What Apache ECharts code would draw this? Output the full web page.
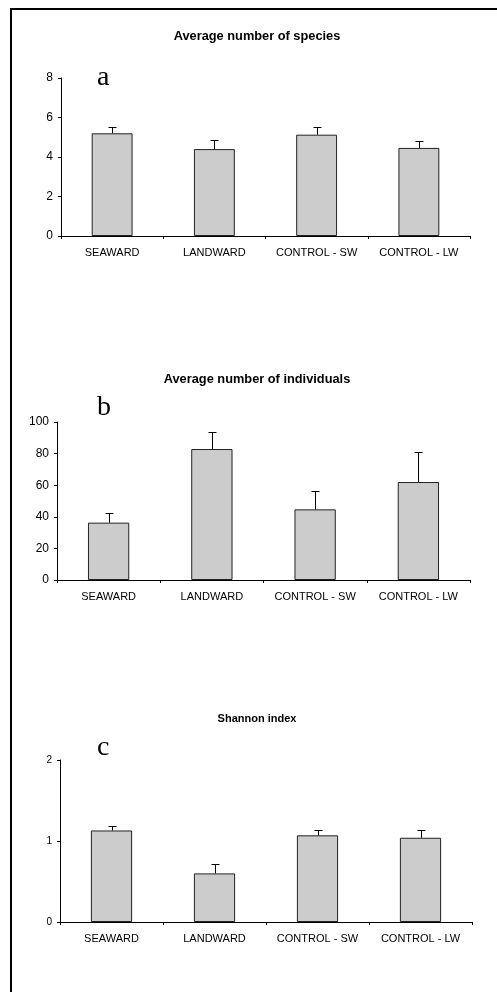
<!DOCTYPE html>
<html>
<head>
<meta charset="utf-8">
<script src="https://cdn.jsdelivr.net/npm/echarts@6/dist/echarts.min.js"></script>
<style>html,body{margin:0;padding:0;background:#fff}#c{width:497px;height:992px}</style>
</head>
<body>
<div id="c"></div>
<script>
const categories = ['SEAWARD', 'LANDWARD', 'CONTROL - SW', 'CONTROL - LW'];
const speciesMean = [5.2, 4.4, 5.13, 4.46];
const speciesErr = [0.3, 0.46, 0.37, 0.34];
const individualsMean = [36.3, 82.9, 44.7, 62.0];
const individualsErr = [5.9, 10.8, 11.6, 19.2];
const shannonMean = [1.13, 0.6, 1.07, 1.04];
const shannonErr = [0.05, 0.11, 0.07, 0.09];
const titles = ['Average number of species', 'Average number of individuals', 'Shannon index'];
const panelLetters = ['a', 'b', 'c'];
const yMax = [8, 100, 2];
const yInterval = [2, 20, 1];

const FONT = 'Liberation Sans, Arial, sans-serif';
const chart = echarts.init(document.getElementById('c'), null, {renderer: 'canvas'});

const grids = [
  {left: 61, right: 27, top: 78, height: 158},
  {left: 57, right: 27, top: 422, height: 158},
  {left: 60, right: 25, top: 760, height: 162}
];
const yLabelSize = [12, 12, 10];

function errRender(params, api) {
  const x = api.value(0), y = api.value(1), e = api.value(2);
  const p0 = api.coord([x, y]);
  const p1 = api.coord([x, y + e]);
  const half = 4;
  const xs = Math.round(p0[0]) + 0.5;
  const yt = Math.round(p1[1]) + 0.5;
  return {
    type: 'group',
    children: [
      {type: 'line', shape: {x1: xs, y1: p0[1], x2: xs, y2: yt}, style: {stroke: '#000', lineWidth: 1}},
      {type: 'line', shape: {x1: xs - half, y1: yt, x2: xs + half, y2: yt}, style: {stroke: '#000', lineWidth: 1}}
    ]
  };
}

const means = [speciesMean, individualsMean, shannonMean];
const errs = [speciesErr, individualsErr, shannonErr];

const xAxes = grids.map((g, i) => ({
  type: 'category', gridIndex: i, data: categories,
  axisLine: {lineStyle: {color: '#000', width: 1}},
  axisTick: {show: true, length: 3, lineStyle: {color: '#000'}},
  axisLabel: {color: '#000', fontFamily: FONT, fontSize: 11, margin: 11, interval: 0}
}));
const yAxes = grids.map((g, i) => ({
  type: 'value', gridIndex: i, min: 0, max: yMax[i], interval: yInterval[i],
  splitLine: {show: false},
  axisLine: {show: true, lineStyle: {color: '#000', width: 1}},
  axisTick: {show: true, length: 3, lineStyle: {color: '#000'}},
  axisLabel: {color: '#000', fontFamily: FONT, fontSize: yLabelSize[i], margin: 8}
}));

const series = [];
for (let i = 0; i < 3; i++) {
  series.push({
    type: 'bar', xAxisIndex: i, yAxisIndex: i, data: means[i], barWidth: '40%',
    itemStyle: {color: '#cccccc', borderColor: '#222', borderWidth: 1},
    silent: true, animation: false
  });
  series.push({
    type: 'custom', xAxisIndex: i, yAxisIndex: i, renderItem: errRender, z: 5,
    data: categories.map((c, k) => [k, means[i][k], errs[i][k]]),
    silent: true, animation: false
  });
}

const titleY = [36, 379, 719];
const titleSize = [12.8, 12.8, 11];
const letterPos = [[97, 64], [97, 394], [97, 734]];

const graphic = [
  {type: 'rect', shape: {x: 11, y: 9, width: 700, height: 1200}, style: {fill: 'none', stroke: '#000', lineWidth: 2}, z: 10}
];
for (let i = 0; i < 3; i++) {
  graphic.push({type: 'text', x: 257, y: titleY[i], style: {text: titles[i], font: 'bold ' + titleSize[i] + 'px ' + FONT, fill: '#000', align: 'center', verticalAlign: 'middle'}, z: 10});
  graphic.push({type: 'text', x: letterPos[i][0], y: letterPos[i][1], style: {text: panelLetters[i], font: '28px "Liberation Serif", "Times New Roman", serif', fill: '#000'}, z: 10});
}
graphic.push({type: 'rect', shape: {x: 90, y: 417, width: 30, height: 4}, style: {fill: '#fff'}, z: 11});

chart.setOption({
  animation: false,
  backgroundColor: '#fff',
  grid: grids,
  xAxis: xAxes,
  yAxis: yAxes,
  series: series,
  graphic: graphic
});
</script>
</body>
</html>
